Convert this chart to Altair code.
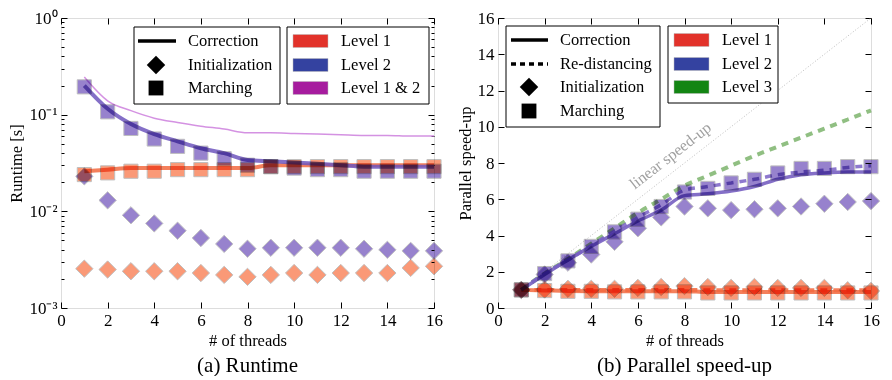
import altair as alt
import pandas as pd

FONT = "Liberation Serif"

threads = list(range(1, 17))

# ---------- (a) Runtime [s] ----------
rt_l1_correction = [0.026, 0.027, 0.028, 0.028, 0.028, 0.028, 0.028, 0.028,
                    0.030, 0.030, 0.030, 0.030, 0.030, 0.030, 0.030, 0.030]
rt_l2_correction = [0.200, 0.115, 0.080, 0.063, 0.053, 0.045, 0.040, 0.034,
                    0.033, 0.032, 0.031, 0.030, 0.029, 0.029, 0.029, 0.029]
rt_l12_correction = [0.245, 0.139, 0.110, 0.092, 0.083, 0.076, 0.071, 0.065,
                     0.065, 0.064, 0.063, 0.062, 0.061, 0.061, 0.060, 0.060]
rt_l1_init = [0.00255, 0.0025, 0.0024, 0.0024, 0.0024, 0.0023, 0.0022, 0.0021,
              0.0022, 0.0023, 0.0022, 0.0023, 0.0023, 0.0023, 0.0026, 0.0027]
rt_l2_init = [0.023, 0.013, 0.0091, 0.0075, 0.0063, 0.0053, 0.0046, 0.0041,
              0.0042, 0.0042, 0.0042, 0.0042, 0.0041, 0.0040, 0.0039, 0.0039]
rt_l1_march = [0.024, 0.025, 0.026, 0.026, 0.027, 0.027, 0.027, 0.027,
               0.029, 0.029, 0.029, 0.029, 0.029, 0.029, 0.029, 0.029]
rt_l2_march = [0.194, 0.107, 0.072, 0.056, 0.047, 0.040, 0.035, 0.030,
               0.029, 0.028, 0.027, 0.027, 0.026, 0.026, 0.026, 0.026]

# ---------- (b) Parallel speed-up ----------
su_l1_correction = [1.00, 0.97, 0.94, 0.93, 0.93, 0.93, 0.93, 0.93,
                    0.88, 0.88, 0.88, 0.88, 0.88, 0.88, 0.88, 0.88]
su_l1_redist = [1.00, 1.00, 1.00, 1.00, 1.00, 1.00, 1.00, 1.00,
                0.98, 0.98, 0.98, 0.98, 0.98, 0.98, 0.98, 0.98]
su_l1_init = [1.00, 1.02, 1.06, 1.06, 1.06, 1.11, 1.16, 1.21,
              1.16, 1.11, 1.16, 1.11, 1.11, 1.11, 0.98, 0.94]
su_l1_march = [1.00, 0.96, 0.92, 0.92, 0.89, 0.89, 0.89, 0.89,
               0.83, 0.83, 0.83, 0.83, 0.83, 0.83, 0.83, 0.83]
su_l2_correction = [1.00, 1.85, 2.65, 3.40, 4.10, 4.80, 5.40, 6.20,
                    6.30, 6.45, 6.70, 7.10, 7.35, 7.45, 7.50, 7.50]
su_l2_redist = [1.00, 1.90, 2.65, 3.45, 4.25, 5.00, 5.70, 6.50,
                6.70, 6.90, 7.10, 7.35, 7.50, 7.60, 7.75, 7.85]
su_l2_init = [1.00, 1.85, 2.50, 2.95, 3.65, 4.40, 5.00, 5.60,
              5.50, 5.40, 5.45, 5.50, 5.60, 5.75, 5.85, 5.90]
su_l2_march = [1.00, 1.90, 2.60, 3.40, 4.20, 4.90, 5.60, 6.40,
               6.60, 6.90, 7.10, 7.45, 7.70, 7.70, 7.80, 7.80]
su_l3_redist = [1.00, 1.90, 2.70, 3.55, 4.40, 5.25, 6.00, 6.75,
                7.30, 7.85, 8.40, 8.90, 9.40, 9.90, 10.40, 10.90]
linear_x = [1, 16]
linear_y = [1, 16]

x_ticks = list(range(0, 17, 2))
log_major = [0.001, 0.01, 0.1, 1.0]
log_minor = [m * d for d in (0.001, 0.01, 0.1) for m in range(2, 10)]
lin_ticks = list(range(0, 17, 2))

# ---------- colours ----------
C_L1_MARK = "#fa8e68"
C_L2_MARK = "#8c74c8"
C_L1_LINE = "#f26a40"
C_L2_LINE = "#6f56bd"
C_L12_LINE = "#cf86df"
C_L3_LINE = "#84b874"
C_LEG = {"Level 1": "#e2322a", "Level 2": "#3442a0",
         "Level 1 & 2": "#a61c9e", "Level 3": "#138513"}

W, H = 373, 290
LBL = 17
TXT = 16.5


def long(series):
    rows = []
    for (level, kind), vals in series.items():
        for t, v in zip(threads, vals):
            rows.append({"t": t, "v": v, "level": level, "kind": kind})
    return pd.DataFrame(rows)


def ax(orient, values, labels, title=None, tick=6, label_expr=None):
    kw = dict(orient=orient, values=values, tickSize=tick, offset=-tick,
              domain=False, grid=False, labels=labels, tickColor="black",
              tickWidth=1, labelFont=FONT, labelFontSize=LBL, labelColor="black",
              labelPadding=4, labelFlush=False, labelOverlap=False,
              titleFont=FONT, titleFontSize=TXT, titleFontWeight="normal",
              titleColor="black")
    if title is not None:
        kw["title"] = title
        kw["titlePadding"] = 4
    else:
        kw["title"] = None
    if label_expr is not None:
        kw["labelExpr"] = label_expr
    return alt.Axis(**kw)


def carriers(df, xs, ys, xaxes, yaxes):
    layers = []
    for a in xaxes:
        layers.append(alt.Chart(df).mark_point(opacity=0).encode(
            x=alt.X("t:Q", scale=xs, axis=a), y=alt.Y("v:Q", scale=ys, axis=None)))
    for a in yaxes:
        layers.append(alt.Chart(df).mark_point(opacity=0).encode(
            x=alt.X("t:Q", scale=xs, axis=None), y=alt.Y("v:Q", scale=ys, axis=a)))
    return layers


def legend(boxes, solid, dashed, diamonds, squares, patches, texts):
    P = lambda f: alt.X(f, type="quantitative", scale=None, axis=None)
    Q = lambda f: alt.Y(f, type="quantitative", scale=None, axis=None)
    out = [
        alt.Chart(pd.DataFrame(boxes)).mark_rect(fill="white", stroke="black", strokeWidth=1)
        .encode(x=P("x"), x2="x2", y=Q("y"), y2="y2"),
        alt.Chart(pd.DataFrame(solid)).mark_rule(color="black", strokeWidth=3.5)
        .encode(x=P("x"), x2="x2", y=Q("y")),
    ]
    if dashed:
        out.append(alt.Chart(pd.DataFrame(dashed)).mark_rule(color="black", strokeWidth=3.5,
                                                            strokeDash=[5, 4])
                   .encode(x=P("x"), x2="x2", y=Q("y")))
    out += [
        alt.Chart(pd.DataFrame(diamonds)).mark_point(shape="diamond", filled=True, color="black",
                                                     size=340, opacity=1)
        .encode(x=P("x"), y=Q("y")),
        alt.Chart(pd.DataFrame(squares)).mark_point(shape="square", filled=True, color="black",
                                                    size=220, opacity=1)
        .encode(x=P("x"), y=Q("y")),
        alt.Chart(pd.DataFrame(patches)).mark_rect(opacity=1, stroke="#bbbbbb", strokeWidth=0.5)
        .encode(x=P("x"), x2="x2", y=Q("y"), y2="y2",
                fill=alt.Fill("c:N", scale=None)),
        alt.Chart(pd.DataFrame(texts)).mark_text(align="left", baseline="middle", font=FONT,
                                                 fontSize=TXT, color="black")
        .encode(x=P("x"), y=Q("y"), text="s:N"),
    ]
    return out


# ================= panel (a) =================
df_a = long({
    ("Level 1", "corr"): rt_l1_correction, ("Level 2", "corr"): rt_l2_correction,
    ("Level 1 & 2", "corr"): rt_l12_correction,
    ("Level 1", "init"): rt_l1_init, ("Level 2", "init"): rt_l2_init,
    ("Level 1", "march"): rt_l1_march, ("Level 2", "march"): rt_l2_march,
})
xs_a = alt.Scale(domain=[0, 16], nice=False)
ys_a = alt.Scale(type="log", domain=[0.001, 1], nice=False)
mark_fill = alt.Fill("level:N", scale=alt.Scale(domain=["Level 1", "Level 2", "Level 3"],
                                                range=[C_L1_MARK, C_L2_MARK, C_L3_LINE]),
                     legend=None)


def line_layer(df, xs, ys, level, kind, color, width, dash=None, opacity=0.9):
    kw = dict(color=color, strokeWidth=width, interpolate="monotone", opacity=opacity)
    if dash:
        kw["strokeDash"] = dash
    return alt.Chart(df).transform_filter(
        (alt.datum.level == level) & (alt.datum.kind == kind)
    ).mark_line(**kw).encode(
        x=alt.X("t:Q", scale=xs, axis=None), y=alt.Y("v:Q", scale=ys, axis=None))


def marker_layer(df, xs, ys, kind, shape, size):
    return alt.Chart(df).transform_filter(alt.datum.kind == kind).mark_point(
        shape=shape, filled=True, size=size, stroke="#b8b8b8", strokeWidth=1,
        opacity=0.9, blend="multiply"
    ).encode(x=alt.X("t:Q", scale=xs, axis=None), y=alt.Y("v:Q", scale=ys, axis=None),
             fill=mark_fill)


log_lbl = ("datum.value >= 0.99 ? '10⁰' : datum.value >= 0.099 ? '10⁻¹' : "
           "datum.value >= 0.0099 ? '10⁻²' : '10⁻³'")

layers_a = carriers(
    df_a, xs_a, ys_a,
    [ax("bottom", x_ticks, True, "# of threads"), ax("top", x_ticks, False)],
    [ax("left", log_major, True, "Runtime [s]", label_expr=log_lbl),
     ax("left", log_minor, False, tick=3),
     ax("right", log_major, False), ax("right", log_minor, False, tick=3)],
)
layers_a += [
    line_layer(df_a, xs_a, ys_a, "Level 1 & 2", "corr", C_L12_LINE, 1.5),
    line_layer(df_a, xs_a, ys_a, "Level 1", "corr", C_L1_LINE, 4, opacity=0.85),
    line_layer(df_a, xs_a, ys_a, "Level 2", "corr", C_L2_LINE, 4, opacity=0.85),
    marker_layer(df_a, xs_a, ys_a, "init", "diamond", 300),
    marker_layer(df_a, xs_a, ys_a, "march", "square", 200),
]
layers_a += legend(
    boxes={"x": [73, 226], "x2": [219, 368], "y": [9, 9], "y2": [86, 86]},
    solid={"x": [77], "x2": [115], "y": [23]},
    dashed=None,
    diamonds={"x": [95], "y": [47]},
    squares={"x": [95], "y": [70]},
    patches={"x": [232, 232, 232], "x2": [267, 267, 267],
             "y": [16.5, 40.5, 63.5], "y2": [29.5, 53.5, 76.5],
             "c": [C_LEG["Level 1"], C_LEG["Level 2"], C_LEG["Level 1 & 2"]]},
    texts={"x": [127, 127, 127, 280, 280, 280], "y": [23, 47, 70, 23, 47, 70],
           "s": ["Correction", "Initialization", "Marching",
                 "Level 1", "Level 2", "Level 1 & 2"]},
)
panel_a = alt.layer(*layers_a).resolve_axis(x="independent", y="independent").properties(
    width=W, height=H,
    title=alt.TitleParams("(a) Runtime", orient="bottom", font=FONT, fontSize=21,
                          fontWeight="normal", color="black", offset=6, frame="group"))

# ================= panel (b) =================
df_b = long({
    ("Level 1", "corr"): su_l1_correction, ("Level 1", "redist"): su_l1_redist,
    ("Level 1", "init"): su_l1_init, ("Level 1", "march"): su_l1_march,
    ("Level 2", "corr"): su_l2_correction, ("Level 2", "redist"): su_l2_redist,
    ("Level 2", "init"): su_l2_init, ("Level 2", "march"): su_l2_march,
    ("Level 3", "redist"): su_l3_redist,
})
df_lin = pd.DataFrame({"t": linear_x, "v": linear_y})
xs_b = alt.Scale(domain=[0, 16], nice=False)
ys_b = alt.Scale(domain=[0, 16], nice=False)

layers_b = carriers(
    df_b, xs_b, ys_b,
    [ax("bottom", x_ticks, True, "# of threads"), ax("top", x_ticks, False)],
    [ax("left", lin_ticks, True, "Parallel speed-up"), ax("right", lin_ticks, False)],
)
layers_b += [
    alt.Chart(df_lin).mark_line(color="#bdbdbd", strokeWidth=1, strokeDash=[1, 2]).encode(
        x=alt.X("t:Q", scale=xs_b, axis=None), y=alt.Y("v:Q", scale=ys_b, axis=None)),
    alt.Chart(pd.DataFrame({"t": [7.4], "v": [8.4], "s": ["linear speed-up"]})).mark_text(
        font=FONT, fontSize=16, color="#a0a0a0", angle=322.3, align="center",
        baseline="middle").encode(
        x=alt.X("t:Q", scale=xs_b, axis=None), y=alt.Y("v:Q", scale=ys_b, axis=None),
        text="s:N"),
    line_layer(df_b, xs_b, ys_b, "Level 3", "redist", C_L3_LINE, 4, dash=[7, 6]),
    line_layer(df_b, xs_b, ys_b, "Level 1", "corr", C_L1_LINE, 4, opacity=0.85),
    line_layer(df_b, xs_b, ys_b, "Level 1", "redist", C_L1_LINE, 4, dash=[7, 6], opacity=0.85),
    line_layer(df_b, xs_b, ys_b, "Level 2", "corr", C_L2_LINE, 3.5, opacity=0.85),
    line_layer(df_b, xs_b, ys_b, "Level 2", "redist", "#7a62c6", 3.5, dash=[7, 6], opacity=0.85),
    marker_layer(df_b, xs_b, ys_b, "init", "diamond", 300),
    marker_layer(df_b, xs_b, ys_b, "march", "square", 200),
]
layers_b += legend(
    boxes={"x": [8, 170], "x2": [162, 280], "y": [8, 8], "y2": [109, 85]},
    solid={"x": [13], "x2": [50], "y": [22]},
    dashed={"x": [13], "x2": [50], "y": [46]},
    diamonds={"x": [31], "y": [69]},
    squares={"x": [31], "y": [93]},
    patches={"x": [176, 176, 176], "x2": [211, 211, 211],
             "y": [15.5, 39.5, 62.5], "y2": [28.5, 52.5, 75.5],
             "c": [C_LEG["Level 1"], C_LEG["Level 2"], C_LEG["Level 3"]]},
    texts={"x": [62, 62, 62, 62, 224, 224, 224], "y": [22, 46, 69, 93, 22, 46, 69],
           "s": ["Correction", "Re-distancing", "Initialization", "Marching",
                 "Level 1", "Level 2", "Level 3"]},
)
panel_b = alt.layer(*layers_b).resolve_axis(x="independent", y="independent").properties(
    width=W, height=H,
    title=alt.TitleParams("(b) Parallel speed-up", orient="bottom", font=FONT, fontSize=21,
                          fontWeight="normal", color="black", offset=6, frame="group"))

chart = alt.hconcat(panel_a, panel_b, spacing=64, bounds="flush").properties(
    padding={"left": 0, "top": 0, "right": 0, "bottom": 0}
).configure_view(stroke="black", strokeWidth=1).configure(font=FONT)

chart.save("out.html", embed_options={"renderer": "svg", "actions": False})
